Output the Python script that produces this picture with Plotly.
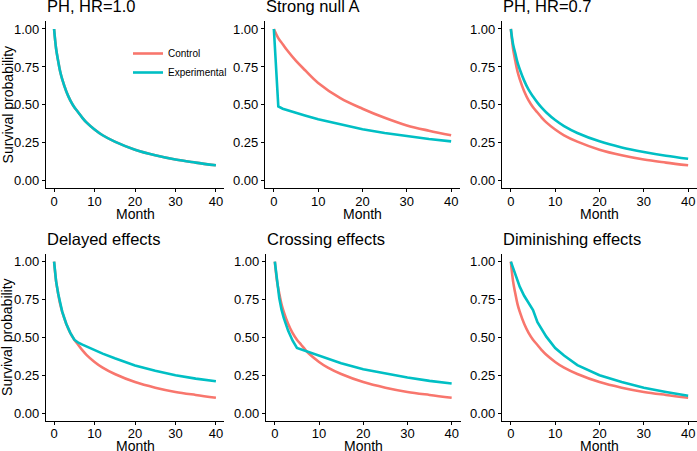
import plotly.graph_objects as go

# ---------------- data ----------------
months = [0, 0.5, 1, 1.5, 2, 3, 4, 5, 6, 7, 8, 10, 12, 15, 20, 25, 30, 35, 40]
control = [1.0, 0.87, 0.79, 0.72, 0.67, 0.59, 0.53, 0.485, 0.45, 0.415, 0.385,
           0.338, 0.30, 0.258, 0.205, 0.168, 0.14, 0.12, 0.102]
ph10_exp = list(control)
ph07_exp = [1.0, 0.90, 0.84, 0.78, 0.735, 0.66, 0.60, 0.555, 0.515, 0.48, 0.45,
            0.40, 0.36, 0.315, 0.26, 0.22, 0.19, 0.165, 0.145]
delayed_exp = [1.0, 0.87, 0.79, 0.72, 0.67, 0.59, 0.53, 0.485, 0.465, 0.452, 0.44,
               0.415, 0.393, 0.362, 0.315, 0.28, 0.25, 0.228, 0.21]
crossing_exp = [1.0, 0.86, 0.76, 0.685, 0.63, 0.545, 0.48, 0.43, 0.42, 0.413, 0.405,
                0.38, 0.36, 0.33, 0.29, 0.26, 0.235, 0.213, 0.196]
diminish_exp = [1.0, 0.955, 0.91, 0.87, 0.835, 0.775, 0.725, 0.68, 0.60, 0.55, 0.505,
                0.43, 0.38, 0.317, 0.25, 0.205, 0.168, 0.14, 0.115]

months_null = [0, 1, 2, 3, 5, 7, 10, 15, 20, 25, 30, 35, 40]
null_control = [1.0, 0.94, 0.90, 0.86, 0.79, 0.73, 0.645, 0.545, 0.475, 0.415, 0.365, 0.33, 0.30]
null_exp = [1.0, 0.49, 0.475, 0.465, 0.445, 0.43, 0.405, 0.37, 0.34, 0.315, 0.293, 0.275, 0.26]

titles = ["PH, HR=1.0", "Strong null A", "PH, HR=0.7",
          "Delayed effects", "Crossing effects", "Diminishing effects"]
# (control x, control y, experimental x, experimental y, experimental curve smooth?)
panels = [
    (months, control, months, ph10_exp, True),
    (months_null, null_control, months_null, null_exp, False),
    (months, control, months, ph07_exp, True),
    (months, control, months, delayed_exp, False),
    (months, control, months, crossing_exp, False),
    (months, control, months, diminish_exp, False),
]
series_names = ["Control", "Experimental"]
x_ticks = [0, 10, 20, 30, 40]
y_ticks = [0.0, 0.25, 0.5, 0.75, 1.0]
y_tick_labels = ["0.00", "0.25", "0.50", "0.75", "1.00"]

# ---------------- layout geometry ----------------
W, H = 697, 451
COL_CTRL = "#F8766D"
COL_EXP = "#00BFC4"
FONT = "Liberation Sans, Arial, Helvetica, sans-serif"

xdom_px = [(46, 224), (265, 460), (502, 697), (46, 224), (266, 460.5), (502, 697)]
ydom_px = [(21.4, 188.4)] * 3 + [(254.1, 420.7)] * 3

fig = go.Figure()
annotations = []
for i, (xc, yc, xe, ye, smooth_exp) in enumerate(panels):
    k = i + 1
    xa = "x" if k == 1 else f"x{k}"
    ya = "y" if k == 1 else f"y{k}"
    fig.add_trace(go.Scatter(x=xc, y=yc, mode="lines", name=series_names[0],
                             line=dict(color=COL_CTRL, width=2.6, shape="spline", smoothing=1.0),
                             xaxis=xa, yaxis=ya, showlegend=(k == 1),
                             legendrank=1))
    exp_line = dict(color=COL_EXP, width=2.6)
    if smooth_exp:
        exp_line.update(shape="spline", smoothing=1.0)
    fig.add_trace(go.Scatter(x=xe, y=ye, mode="lines", name=series_names[1],
                             line=exp_line,
                             xaxis=xa, yaxis=ya, showlegend=(k == 1),
                             legendrank=2))
    x0, x1 = xdom_px[i]
    y0, y1 = ydom_px[i]
    axis_common = dict(showline=True, linecolor="black", linewidth=1.1,
                       ticks="outside", ticklen=3, tickwidth=1.1, tickcolor="black",
                       showgrid=False, zeroline=False,
                       tickfont=dict(family=FONT, size=13, color="black"))
    fig.layout[f"xaxis{k}"] = dict(domain=[x0 / W, x1 / W], range=[-2, 42],
                                   anchor=ya, tickvals=x_ticks, ticklabelstandoff=-2,
                                   fixedrange=True, **axis_common)
    fig.layout[f"yaxis{k}"] = dict(domain=[1 - y1 / H, 1 - y0 / H], range=[-0.05, 1.05],
                                   anchor=xa, tickvals=y_ticks, ticktext=y_tick_labels,
                                   fixedrange=True, **axis_common)
    # panel title
    annotations.append(dict(text=titles[i], xref="paper", yref="paper",
                            x=x0 / W, y=1 - (y0 - 15) / H, xanchor="left", yanchor="middle",
                            showarrow=False, borderpad=0,
                            font=dict(family=FONT, size=16.5, color="black")))
    # x axis title
    annotations.append(dict(text="Month", xref="paper", yref="paper",
                            x=((x0 + x1) / 2) / W, y=1 - (y1 + 25.5) / H,
                            xanchor="center", yanchor="middle", showarrow=False, borderpad=0,
                            font=dict(family=FONT, size=14, color="black")))
    if i in (0, 3):
        annotations.append(dict(text="Survival probability", xref="paper", yref="paper",
                                x=7.5 / W, y=1 - ((y0 + y1) / 2) / H, textangle=-90,
                                xanchor="center", yanchor="middle", showarrow=False, borderpad=0,
                                font=dict(family=FONT, size=14, color="black")))

fig.update_layout(
    width=W, height=H,
    margin=dict(l=0, r=0, t=0, b=0),
    paper_bgcolor="white", plot_bgcolor="white",
    annotations=annotations,
    showlegend=True,
    legend=dict(x=128 / W, y=1 - 39 / H, xanchor="left", yanchor="top",
                bgcolor="rgba(0,0,0,0)", borderwidth=0,
                font=dict(family=FONT, size=10, color="black"),
                itemwidth=30, tracegroupgap=0),
)

fig.write_html("out.html")
